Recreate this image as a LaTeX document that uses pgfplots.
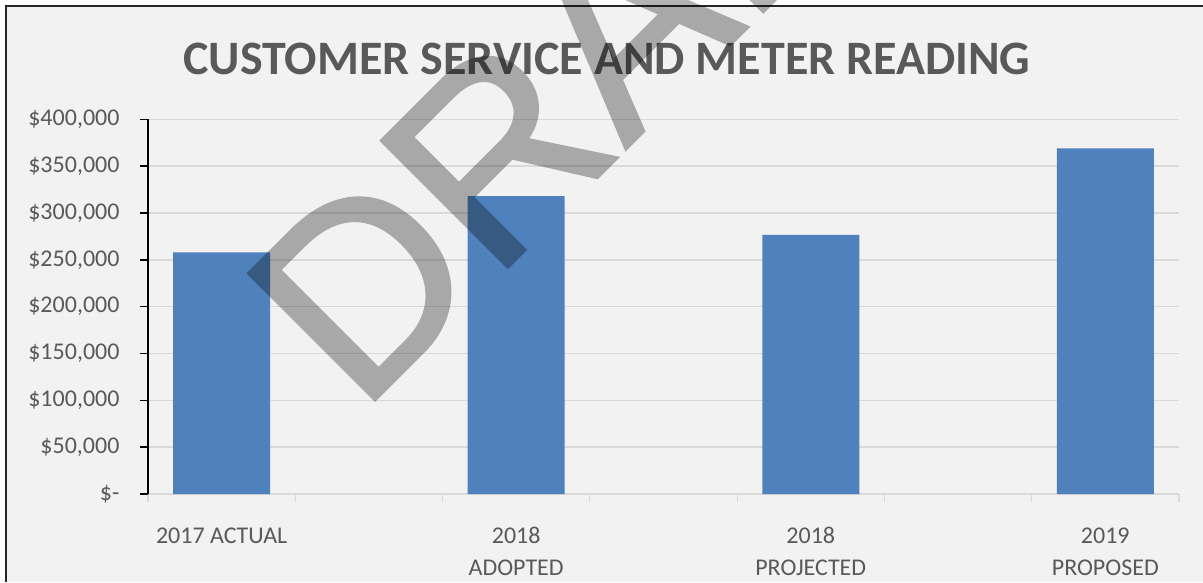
\documentclass[border=0pt]{standalone}
\usepackage{pgfplots}
\pgfplotsset{compat=1.18}
\usepackage{fontspec}
\setmainfont{Carlito}
\newfontface\wmfont{Liberation Sans}[FakeBold=1.2]
\definecolor{barblue}{HTML}{4F81BD}
\definecolor{txtgray}{HTML}{595959}
\definecolor{bg}{HTML}{F2F2F2}
\definecolor{gridc}{HTML}{D9D9D9}
\begin{document}
\begin{tikzpicture}
\useasboundingbox (0,0) rectangle (1203pt,582pt);
\clip (0,0) rectangle (1203pt,582pt);
\fill[white] (0,0) rectangle (1203pt,582pt);
\fill[bg] (6pt,0) rectangle (1203pt,576pt);
\draw[line width=2.5pt, black!85] (6pt,0) -- (6pt,576pt) -- (1203pt,576pt);
\node[anchor=base, inner sep=0pt, text=txtgray, font=\bfseries\fontsize{48}{52}\selectfont] at (607pt,507pt) {CUSTOMER SERVICE AND METER READING};
\begin{axis}[
  at={(148pt,88pt)}, anchor=south west, scale only axis,
  width=1031pt, height=374.7pt,
  xmin=0, xmax=7, ymin=0, ymax=400000,
  axis x line*=bottom, axis y line*=left, axis line style={-},
  x axis line style={draw=gridc, line width=1.5pt},
  y axis line style={draw=black, line width=1.5pt},
  tick align=outside, major tick length=8pt,
  xtick={0,...,7}, xticklabels={},
  xtick style={draw=gridc, line width=1.2pt},
  ytick style={draw=black, line width=1.5pt},
  extra x ticks={0.5,2.5,4.5,6.5},
  extra x tick labels={2017 ACTUAL,{2018\\ADOPTED},{2018\\PROJECTED},{2019\\PROPOSED}},
  extra x tick style={grid=none, major tick length=0pt, xticklabel style={align=center}},
  ytick={0,50000,100000,150000,200000,250000,300000,350000,400000},
  yticklabels={{\$-},{\$50,000},{\$100,000},{\$150,000},{\$200,000},{\$250,000},{\$300,000},{\$350,000},{\$400,000}},
  scaled y ticks=false,
  ymajorgrids, grid style={draw=gridc, line width=1.5pt},
  ticklabel style={font=\fontsize{24}{32}\selectfont, text=txtgray},
  yticklabel style={xshift=-17pt},
  xticklabel style={yshift=-30pt},
]
\addplot[ybar, bar width=97pt, fill=barblue, draw=none] coordinates {(0.5,258000) (2.5,318000) (4.5,276500) (6.5,369000)};
\end{axis}
\begin{scope}[transparency group, opacity=0.3]
\node[rotate=45, anchor=base west, inner sep=0pt, text=black, font=\wmfont\fontsize{260}{260}\selectfont] at (360pt,167pt) {DRAFT};
\end{scope}
\end{tikzpicture}
\end{document}
